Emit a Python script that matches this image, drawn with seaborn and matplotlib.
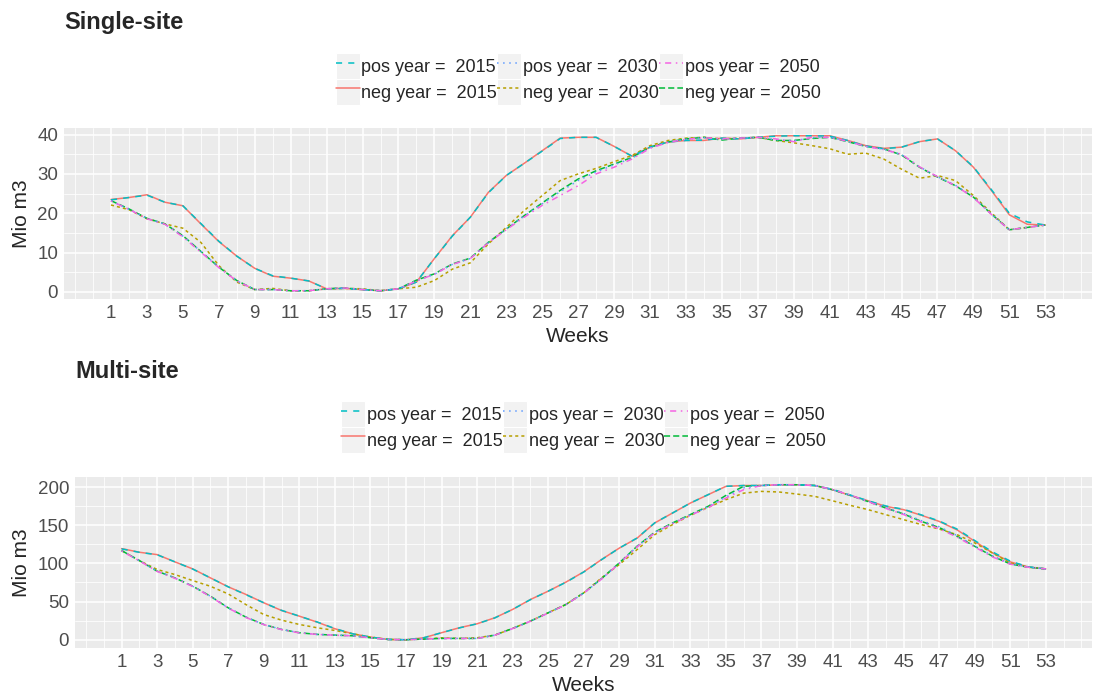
import numpy as np
import pandas as pd
import matplotlib
matplotlib.use('Agg')
import matplotlib.pyplot as plt
from matplotlib.patches import Rectangle
from matplotlib.lines import Line2D
from matplotlib.legend_handler import HandlerTuple, HandlerLine2D
from matplotlib.ticker import FixedLocator
import seaborn as sns

weeks = list(range(1, 54))

# series order as ggplot factor levels (drives colour + linetype)
series = ['neg year =  2015', 'neg year =  2030', 'neg year =  2050',
          'pos year =  2015', 'pos year =  2030', 'pos year =  2050']
colors = ['#F8766D', '#B79F00', '#00BA38', '#00BFC4', '#619CFF', '#F564E3']
dash_list = ['', (2, 2), (4, 2), (4, 4), (1, 3), (1, 3, 4, 3)]

#%% Single-site values (Mio m3)
single_neg_2015 = [23.5, 24.0, 24.7, 22.8, 21.9, 17.3, 12.8, 9.1, 6.0, 4.0,
                   3.5, 2.8, 0.8, 0.9, 0.6, 0.3, 0.8, 2.5, 8.5, 14.3,
                   19.0, 25.3, 29.6, 32.7, 35.9, 39.1, 39.3, 39.3, 37.0, 34.5,
                   36.8, 38.1, 38.5, 38.5, 39.1, 38.9, 39.3, 39.7, 39.7, 39.7,
                   39.7, 38.5, 37.2, 36.5, 36.8, 38.2, 38.9, 35.9, 31.7, 25.8,
                   19.6, 17.2, 17.0]
single_pos_2015 = [23.4, 24.0, 24.6, 22.8, 21.9, 17.4, 12.9, 9.1, 6.0, 4.1,
                   3.5, 2.8, 0.8, 0.9, 0.6, 0.3, 0.8, 2.5, 8.5, 14.2,
                   19.0, 25.2, 29.6, 32.7, 35.8, 39.0, 39.3, 39.3, 37.0, 34.5,
                   36.8, 38.1, 38.5, 38.6, 39.1, 38.9, 39.3, 39.6, 39.7, 39.7,
                   39.6, 38.5, 37.1, 36.4, 36.8, 38.2, 38.9, 35.9, 31.8, 26.0,
                   20.0, 17.8, 17.0]
single_neg_2030 = [22.1, 20.9, 18.6, 17.3, 16.2, 12.6, 6.7, 2.5, 0.6, 0.9,
                   0.3, 0.3, 0.8, 0.9, 0.8, 0.3, 0.8, 1.2, 2.9, 5.8,
                   7.4, 12.2, 16.4, 20.7, 24.5, 28.3, 30.0, 31.4, 33.1, 34.7,
                   37.2, 38.5, 39.1, 39.3, 38.9, 39.1, 39.3, 38.5, 37.9, 37.2,
                   36.4, 35.0, 35.3, 33.8, 31.2, 28.9, 29.6, 28.3, 24.5, 20.1,
                   15.8, 16.4, 17.0]
single_neg_2050 = [23.2, 21.1, 18.7, 17.3, 14.3, 10.3, 6.3, 2.9, 0.6, 0.6,
                   0.3, 0.3, 0.8, 1.0, 0.6, 0.3, 0.8, 3.0, 4.6, 7.1,
                   8.6, 12.6, 16.0, 19.4, 22.6, 25.8, 28.7, 30.8, 32.5, 34.2,
                   36.8, 38.1, 38.9, 39.3, 38.6, 39.1, 39.3, 38.5, 38.5, 39.0,
                   39.3, 38.2, 37.0, 36.4, 34.8, 31.7, 29.2, 27.0, 24.1, 19.8,
                   15.8, 16.4, 17.0]
single_pos_2030 = [23.2, 21.0, 18.7, 17.2, 14.2, 10.3, 6.3, 2.8, 0.6, 0.6,
                   0.3, 0.3, 0.8, 1.0, 0.6, 0.3, 0.8, 2.8, 4.5, 7.0,
                   8.5, 12.5, 16.0, 19.3, 22.4, 25.5, 28.3, 30.5, 32.3, 34.0,
                   36.7, 38.0, 38.8, 39.2, 38.8, 39.1, 39.3, 38.7, 38.4, 39.2,
                   39.3, 38.3, 37.0, 36.3, 34.9, 31.8, 29.3, 27.1, 24.1, 19.8,
                   15.8, 16.4, 17.0]
single_pos_2050 = [23.1, 21.0, 18.6, 17.2, 14.0, 10.1, 6.2, 2.8, 0.6, 0.6,
                   0.3, 0.3, 0.8, 1.0, 0.6, 0.3, 0.8, 2.8, 4.5, 7.0,
                   8.5, 12.5, 15.8, 19.0, 22.0, 24.5, 27.0, 30.0, 31.7, 33.8,
                   36.5, 38.0, 38.8, 39.2, 38.9, 39.1, 39.3, 38.9, 38.2, 39.3,
                   39.3, 38.3, 37.0, 36.2, 35.0, 31.8, 29.3, 27.0, 24.0, 19.7,
                   15.8, 16.4, 17.0]

#%% Multi-site values (Mio m3)
multi_neg_2015 = [119.4, 114.6, 111.5, 102.0, 92.8, 81.0, 69.3, 59.3, 48.4, 38.3,
                  30.9, 23.1, 14.4, 7.8, 3.5, 0.4, 0.0, 2.6, 9.2, 15.7,
                  20.9, 28.8, 39.7, 52.7, 63.6, 75.5, 88.9, 105.0, 120.0, 133.0,
                  153.0, 166.0, 179.0, 190.0, 200.9, 202.0, 202.0, 203.0, 203.0, 202.0,
                  196.5, 189.0, 182.0, 174.7, 170.4, 163.0, 155.0, 144.0, 129.0, 113.7,
                  102.0, 95.4, 92.8]
multi_pos_2015 = [119.0, 114.5, 111.3, 102.0, 92.6, 81.0, 69.3, 59.0, 48.4, 38.5,
                  30.9, 23.3, 14.6, 7.8, 3.5, 0.4, 0.0, 2.6, 9.2, 15.5,
                  20.9, 28.6, 39.7, 52.5, 63.6, 75.3, 88.7, 104.8, 120.0, 133.2,
                  153.2, 166.0, 179.0, 190.0, 201.0, 202.0, 202.0, 203.0, 203.0, 202.0,
                  197.0, 189.5, 182.0, 175.2, 170.8, 163.5, 155.5, 145.0, 130.0, 115.0,
                  103.0, 95.6, 92.8]
multi_neg_2030 = [116.8, 103.7, 92.0, 85.4, 77.5, 70.0, 60.0, 46.0, 33.0, 25.7,
                  20.0, 15.7, 12.2, 7.8, 3.5, 0.4, 0.0, 0.9, 2.6, 1.7,
                  2.6, 6.1, 14.8, 24.4, 35.3, 46.2, 61.4, 81.0, 98.5, 118.0,
                  137.7, 150.8, 163.0, 173.4, 183.4, 192.0, 194.3, 193.5, 190.8, 187.8,
                  182.0, 176.0, 170.4, 163.8, 157.3, 150.8, 145.0, 137.7, 126.8, 113.7,
                  100.6, 95.0, 92.8]
multi_neg_2050 = [116.8, 103.7, 89.8, 81.0, 70.2, 57.0, 41.8, 29.6, 20.0, 13.5,
                  9.2, 7.0, 6.1, 5.2, 2.6, 0.4, 0.0, 0.9, 1.7, 1.7,
                  1.7, 6.1, 14.8, 24.4, 35.3, 46.2, 61.4, 80.0, 100.6, 122.4,
                  141.0, 153.0, 164.0, 174.7, 189.0, 201.0, 202.0, 203.0, 203.0, 202.0,
                  196.5, 189.0, 181.0, 172.5, 164.7, 155.0, 147.0, 135.5, 122.4, 109.4,
                  99.3, 95.0, 92.8]
multi_pos_2030 = [116.5, 103.5, 89.8, 81.0, 70.0, 57.0, 41.8, 29.5, 20.0, 13.5,
                  9.2, 7.0, 6.1, 5.2, 2.6, 0.4, 0.0, 0.9, 1.7, 1.7,
                  1.7, 6.0, 14.6, 24.2, 35.0, 46.0, 61.0, 79.6, 100.2, 122.0,
                  140.5, 152.5, 163.5, 174.0, 187.0, 199.0, 202.0, 203.0, 203.0, 202.0,
                  196.5, 189.0, 181.5, 173.0, 165.5, 156.0, 148.0, 136.5, 123.0, 109.8,
                  99.5, 95.0, 92.8]
multi_pos_2050 = [116.2, 103.3, 89.5, 80.5, 69.8, 56.5, 41.5, 29.2, 19.8, 13.3,
                  9.0, 7.0, 6.0, 5.1, 2.5, 0.4, 0.0, 0.9, 1.7, 1.7,
                  1.7, 6.0, 14.6, 24.2, 35.0, 46.0, 61.0, 79.4, 100.0, 121.5,
                  140.0, 152.0, 163.0, 173.0, 185.6, 196.5, 202.0, 203.0, 203.0, 202.0,
                  196.8, 189.5, 181.0, 172.0, 164.0, 154.0, 145.5, 134.5, 121.5, 108.5,
                  99.0, 95.0, 92.8]

single_vals = [single_neg_2015, single_neg_2030, single_neg_2050,
               single_pos_2015, single_pos_2030, single_pos_2050]
multi_vals = [multi_neg_2015, multi_neg_2030, multi_neg_2050,
              multi_pos_2015, multi_pos_2030, multi_pos_2050]


def long_df(vals):
    rows = []
    for name, v in zip(series, vals):
        rows.append(pd.DataFrame({'week': weeks, 'value': v, 'series': name}))
    return pd.concat(rows, ignore_index=True)


sns.set_style('darkgrid', {'axes.facecolor': '#EBEBEB', 'grid.color': 'white'})
plt.rcParams['font.family'] = ['Liberation Sans', 'DejaVu Sans']

fig = plt.figure(figsize=(10.93, 6.96), dpi=100)

W, H = 1093, 696
# panel boxes in pixels: left, top, right, bottom
panels = [(64.3, 128.0, 1092.0, 298.5), (75.4, 477.0, 1092.0, 647.5)]
titles = ['Single-site', 'Multi-site']
title_y = [23, 372]
legend_y = [79, 427]
yticks = [[0, 10, 20, 30, 40], [0, 50, 100, 150, 200]]
yminor = [[5, 15, 25, 35], [25, 75, 125, 175]]
data_sets = [single_vals, multi_vals]

dash_map = dict(zip(series, dash_list))

for k in range(2):
    l, t, r, b = panels[k]
    ax = fig.add_axes([l / W, (H - b) / H, (r - l) / W, (b - t) / H])
    df = long_df(data_sets[k])
    sns.lineplot(data=df, x='week', y='value', hue='series', style='series',
                 hue_order=series, style_order=series, palette=colors,
                 dashes=dash_map, linewidth=1.1, legend=False, ax=ax)

    lo, hi = df['value'].min(), df['value'].max()
    ax.set_ylim(lo - 0.05 * (hi - lo), hi + 0.05 * (hi - lo))
    ax.set_xlim(1 - 0.05 * 52, 53 + 0.05 * 52)

    ax.set_xticks(range(1, 54, 2))
    ax.set_yticks(yticks[k])
    ax.xaxis.set_minor_locator(FixedLocator([-1, 0] + list(range(2, 56, 2)) + [55]))
    ax.yaxis.set_minor_locator(FixedLocator(yminor[k]))
    ax.grid(which='major', color='white', linewidth=1.1)
    ax.grid(which='minor', color='white', linewidth=0.55)
    ax.tick_params(which='major', length=3, width=0.8, color='#333333',
                   labelsize=13.5, labelcolor='#4D4D4D', pad=1.5)
    ax.tick_params(which='minor', length=0)
    for s in ax.spines.values():
        s.set_visible(False)

    ax.set_xlabel('Weeks', fontsize=15, va='center')
    ax.xaxis.set_label_coords(0.5, -0.224)
    ax.set_ylabel('Mio m3', fontsize=15, va='center')
    ax.yaxis.set_label_coords((21.5 - l) / (r - l), 0.5)

    fig.text(l / W, 1 - title_y[k] / H, titles[k], fontsize=17,
             fontweight='bold', ha='left', va='center')

    # legend: grey key boxes like ggplot, pos row on top, neg row below
    order = [3, 0, 4, 1, 5, 2]
    handles = []
    for i in order:
        bg = Rectangle((0, 0), 1, 1, facecolor='#F2F2F2', edgecolor='white', linewidth=0.8)
        ls = '-' if dash_list[i] == '' else (0, dash_list[i])
        ln = Line2D([], [], color=colors[i], linewidth=1.1, linestyle=ls)
        handles.append((bg, ln))
    fig.legend(handles, [series[i] for i in order], ncol=3, loc='center',
               bbox_to_anchor=((l + r) / 2 / W, 1 - legend_y[k] / H),
               bbox_transform=fig.transFigure, frameon=False, fontsize=13,
               handlelength=1.33, handleheight=1.8, handletextpad=0.1,
               columnspacing=0.0, labelspacing=0.0, borderpad=0, borderaxespad=0,
               handler_map={tuple: HandlerTuple(ndivide=1, pad=0),
                            Line2D: HandlerLine2D(marker_pad=0)})

fig.savefig('out.png', dpi=100)
